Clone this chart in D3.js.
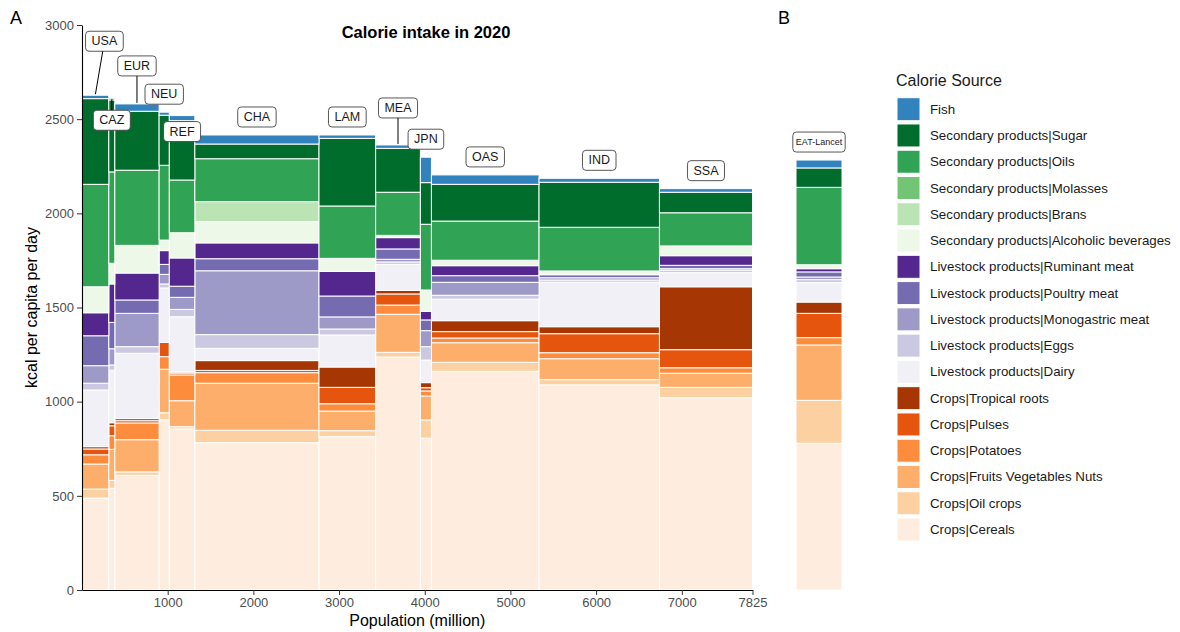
<!DOCTYPE html>
<html>
<head>
<meta charset="utf-8">
<script src="https://cdn.jsdelivr.net/npm/d3@7"></script>
<style>
  body { margin: 0; background: #fff; }
  svg { font-family: "Liberation Sans", Arial, Helvetica, sans-serif; }
</style>
</head>
<body>
<svg id="chart" width="1180" height="632"></svg>
<script>
// Regions in plotting order (left to right) and their population (million)
const regions = ["USA", "CAZ", "EUR", "NEU", "REF", "CHA", "LAM", "MEA", "JPN", "OAS", "IND", "SSA"];
const population = [313, 70, 517, 119, 298, 1449, 661, 522, 129, 1256, 1405, 1086];

// Calorie sources, stacked bottom -> top
const sources = [
  "Crops|Cereals", "Crops|Oil crops", "Crops|Fruits Vegetables Nuts", "Crops|Potatoes",
  "Crops|Pulses", "Crops|Tropical roots",
  "Livestock products|Dairy", "Livestock products|Eggs", "Livestock products|Monogastric meat",
  "Livestock products|Poultry meat", "Livestock products|Ruminant meat",
  "Secondary products|Alcoholic beverages", "Secondary products|Brans", "Secondary products|Molasses",
  "Secondary products|Oils", "Secondary products|Sugar", "Fish"
];
const sourceColors = [
  "#feedde", "#fdd0a2", "#fdae6b", "#fd8d3c", "#e6550d", "#a63603",
  "#f2f0f7", "#cbc9e2", "#9e9ac8", "#756bb1", "#54278f",
  "#edf8e9", "#bae4b3", "#74c476", "#31a354", "#006d2c", "#3182bd"
];

// kcal per capita per day, same order as `sources`
const kcalUSA = [488, 48, 133, 49, 31, 12, 301, 36, 93, 159, 122, 138, 0, 0, 544, 455, 18];
const kcalCAZ = [540, 42, 165, 72, 53, 16, 279, 28, 86, 140, 204, 110, 0, 0, 485, 382, 9];
const kcalEUR = [609, 18, 171, 89, 12, 11, 347, 35, 177, 71, 143, 147, 0, 0, 399, 313, 39];
const kcalNEU = [904, 37, 231, 67, 76, 0, 289, 21, 51, 53, 73, 56, 0, 0, 397, 266, 16];
const kcalREF = [855, 12, 138, 137, 10, 6, 293, 39, 64, 59, 150, 134, 0, 0, 280, 315, 27];
const kcalCHA = [782, 66, 250, 56, 12, 52, 65, 73, 339, 64, 84, 113, 106, 0, 228, 78, 48];
const kcalLAM = [814, 32, 104, 39, 87, 108, 170, 32, 64, 111, 131, 69, 0, 0, 278, 359, 18];
const kcalMEA = [1237, 25, 202, 49, 59, 19, 138, 13, 14, 55, 60, 12, 0, 0, 229, 233, 18];
const kcalJPN = [806, 97, 127, 27, 17, 27, 120, 71, 85, 57, 46, 113, 0, 0, 349, 221, 135];
const kcalOAS = [1161, 48, 104, 25, 34, 58, 114, 21, 69, 35, 53, 29, 0, 0, 208, 195, 50];
const kcalIND = [1089, 28, 111, 32, 101, 37, 236, 12, 12, 16, 1, 19, 0, 0, 232, 239, 21];
const kcalSSA = [1021, 55, 75, 29, 96, 334, 75, 13, 8, 18, 51, 52, 0, 0, 176, 109, 19];
const kcalEAT = [779, 228, 294, 39, 129, 60, 103, 16, 14, 27, 17, 21, 0, 0, 411, 103, 42];

const regionKcal = [kcalUSA, kcalCAZ, kcalEUR, kcalNEU, kcalREF, kcalCHA, kcalLAM, kcalMEA,
                    kcalJPN, kcalOAS, kcalIND, kcalSSA];

const yTicks = [0, 500, 1000, 1500, 2000, 2500, 3000];
const xTicks = [1000, 2000, 3000, 4000, 5000, 6000, 7000, 7825];

// label placement (pixel nudges, like ggrepel result)
const labelNudge = { USA: [9, -54], CAZ: [0, 22], EUR: [0, -38], REF: [0, 16], MEA: [0, -37] };
const defaultNudge = [0, -18];

// layout
const panel = { left: 82, right: 752.5, top: 25, bottom: 590 };
const panelB = { left: 796, right: 842 };

const svg = d3.select("#chart");

const x = d3.scaleLinear().domain([0, d3.sum(population)]).range([panel.left, panel.right]);
const y = d3.scaleLinear().domain([0, 3000]).range([panel.bottom, panel.top]);
const color = d3.scaleOrdinal().domain(sources).range(sourceColors);

function buildRows(names, tables) {
  return names.map((n, i) => {
    const row = { name: n };
    sources.forEach((s, j) => row[s] = tables[i][j]);
    return row;
  });
}

const stack = d3.stack().keys(sources);
const seriesA = stack(buildRows(regions, regionKcal));
const xStart = Array.from(d3.cumsum([0].concat(population))).slice(0, regions.length);

// ---- Panel A bars
const gA = svg.append("g");
seriesA.forEach(s => {
  gA.selectAll(null)
    .data(s.filter(d => d[1] - d[0] > 0))
    .join("rect")
      .attr("x", d => x(xStart[regions.indexOf(d.data.name)]))
      .attr("width", d => {
        const i = regions.indexOf(d.data.name);
        return x(xStart[i] + population[i]) - x(xStart[i]);
      })
      .attr("y", d => y(d[1]))
      .attr("height", d => y(d[0]) - y(d[1]))
      .attr("fill", color(s.key))
      .attr("stroke", "#fff")
      .attr("stroke-width", 1);
});

// ---- Panel B bar (EAT-Lancet)
const xB = d3.scaleBand().domain(["EAT-Lancet"]).range([panelB.left, panelB.right]);
const seriesB = stack(buildRows(["EAT-Lancet"], [kcalEAT]));
const gB = svg.append("g");
seriesB.forEach(s => {
  gB.selectAll(null)
    .data(s.filter(d => d[1] - d[0] > 0))
    .join("rect")
      .attr("x", d => xB(d.data.name))
      .attr("width", xB.bandwidth())
      .attr("y", d => y(d[1]))
      .attr("height", d => y(d[0]) - y(d[1]))
      .attr("fill", color(s.key))
      .attr("stroke", "#fff")
      .attr("stroke-width", 1);
});

// ---- axes
const yAxis = svg.append("g")
  .attr("transform", `translate(${panel.left},0)`)
  .call(d3.axisLeft(y).tickValues(yTicks).tickFormat(d3.format("d"))
    .tickSize(5).tickSizeOuter(0).tickPadding(3));
const xAxis = svg.append("g")
  .attr("transform", `translate(0,${panel.bottom})`)
  .call(d3.axisBottom(x).tickValues(xTicks).tickFormat(d3.format("d"))
    .tickSize(5).tickSizeOuter(0).tickPadding(3));

[yAxis, xAxis].forEach(a => {
  a.select(".domain").attr("stroke", "#000").attr("stroke-width", 1.1);
  a.selectAll(".tick line").attr("stroke", "#333");
  a.selectAll(".tick text").attr("fill", "#4d4d4d").style("font-size", "13px")
    .style("font-family", "'Liberation Sans', Arial, sans-serif");
});

svg.append("text")
  .attr("transform", `translate(37,${(panel.top + panel.bottom) / 2}) rotate(-90)`)
  .attr("text-anchor", "middle")
  .style("font-size", "16px")
  .text("kcal per capita per day");

svg.append("text")
  .attr("x", (panel.left + panel.right) / 2)
  .attr("y", 626)
  .attr("text-anchor", "middle")
  .style("font-size", "16px")
  .text("Population (million)");

svg.append("text")
  .attr("x", 426)
  .attr("y", 38)
  .attr("text-anchor", "middle")
  .style("font-size", "16.5px")
  .style("font-weight", "bold")
  .text("Calorie intake in 2020");

svg.append("text").attr("x", 10).attr("y", 24).style("font-size", "18px").text("A");
svg.append("text").attr("x", 778).attr("y", 24).style("font-size", "18px").text("B");

// ---- region labels
function addLabel(name, cx, cy, nudge, fontSize, pad) {
  const lx = cx + nudge[0], ly = cy + nudge[1];
  const g = svg.append("g");
  const t = g.append("text")
    .attr("x", lx).attr("y", ly)
    .attr("text-anchor", "middle")
    .attr("dominant-baseline", "central")
    .style("font-size", fontSize + "px")
    .attr("fill", "#1a1a1a")
    .text(name);
  const w = t.node().getComputedTextLength() + 2 * pad;
  const h = 20;
  g.insert("rect", "text")
    .attr("x", lx - w / 2).attr("y", ly - h / 2)
    .attr("width", w).attr("height", h)
    .attr("rx", 3.5)
    .attr("fill", "#fff")
    .attr("stroke", "#444")
    .attr("stroke-width", 0.9);
  // leader segment when the box is far from the bar top
  const edgeY = ly > cy ? ly - h / 2 : ly + h / 2;
  if (Math.abs(edgeY - cy) > 10) {
    const tEnd = (cy - edgeY) / (cy - ly);
    g.append("line")
      .attr("x1", cx).attr("y1", cy + (ly > cy ? 1 : -1))
      .attr("x2", cx + (lx - cx) * tEnd).attr("y2", edgeY)
      .attr("stroke", "#000").attr("stroke-width", 1);
  }
}

regions.forEach((r, i) => {
  const total = d3.sum(regionKcal[i]);
  const cx = x(xStart[i] + population[i] / 2);
  addLabel(r, cx, y(total), labelNudge[r] || defaultNudge, 12.5, 6);
});
addLabel("EAT-Lancet", xB("EAT-Lancet") + xB.bandwidth() / 2, y(d3.sum(kcalEAT)), defaultNudge, 9, 3);

// ---- legend
const legend = svg.append("g").attr("transform", "translate(897,0)");
legend.append("text")
  .attr("x", -1).attr("y", 86)
  .style("font-size", "16px")
  .attr("fill", "#1a1a1a")
  .text("Calorie Source");

const legendItems = sources.slice().reverse();
const keyStep = 26.27, keySize = 23, keyTop = 97.7;
const items = legend.selectAll(".item")
  .data(legendItems)
  .join("g")
    .attr("class", "item")
    .attr("transform", (d, i) => `translate(0,${keyTop + i * keyStep})`);
items.append("rect")
  .attr("width", keySize).attr("height", keySize)
  .attr("fill", d => color(d))
  .attr("stroke", "#fff").attr("stroke-width", 1);
items.append("text")
  .attr("x", 33).attr("y", keySize / 2)
  .attr("dominant-baseline", "central")
  .style("font-size", "13.3px")
  .attr("fill", "#1a1a1a")
  .text(d => d);
</script>
</body>
</html>
